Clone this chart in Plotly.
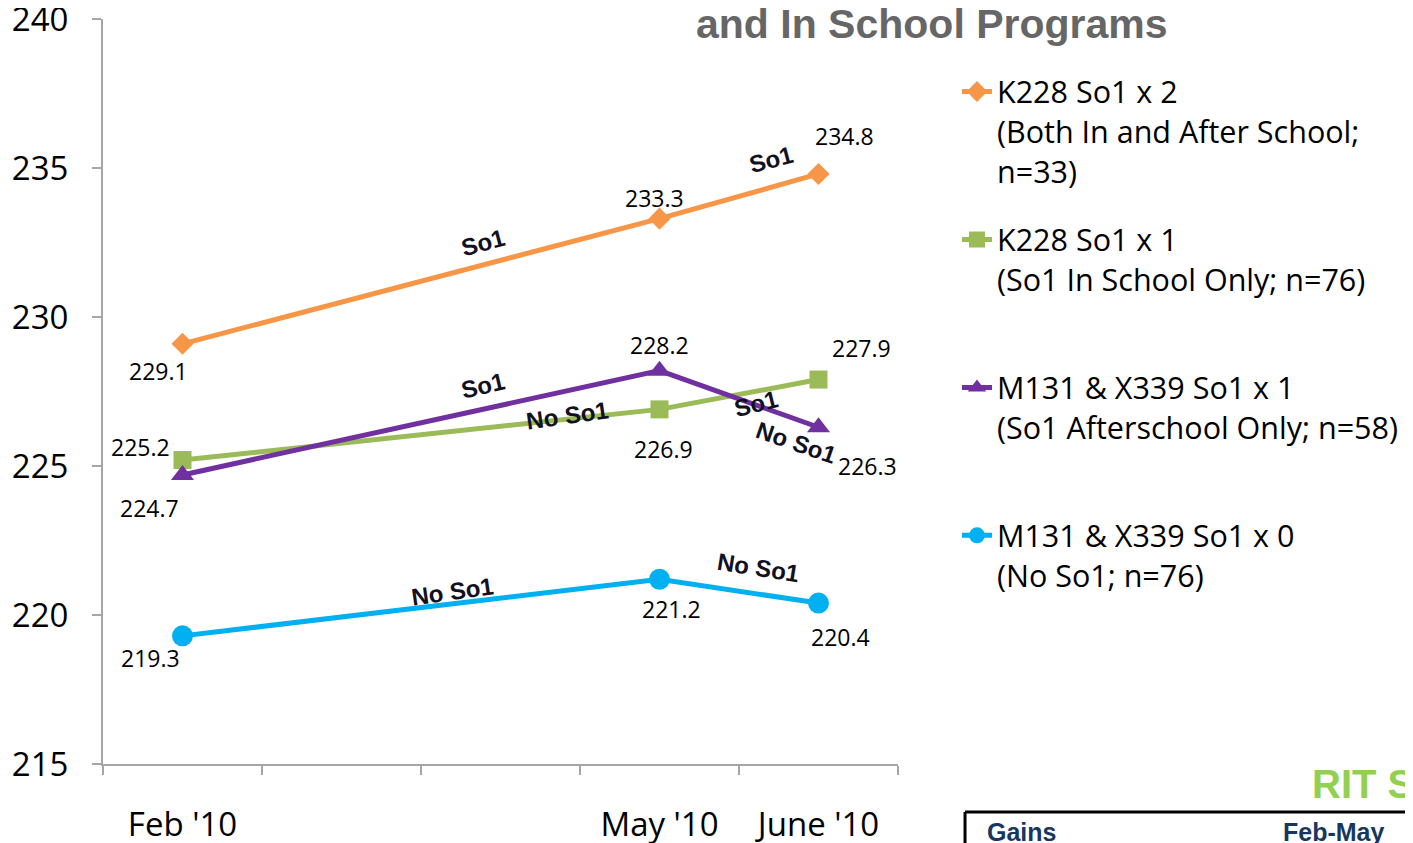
import plotly.graph_objects as go

# ---- data ----
months = ["Feb '10", "Mar '10", "Apr '10", "May '10", "June '10"]
month_labels = ["Feb '10", "", "", "May '10", "June '10"]
test_months = ["Feb '10", "May '10", "June '10"]

series_names = [
    "K228 So1 x 2<br>(Both In and After School;<br>n=33)",
    "K228 So1 x 1<br>(So1 In School Only; n=76)<br> ",
    "M131 & X339 So1 x 1<br>(So1 Afterschool Only; n=58)<br> ",
    "M131 & X339 So1 x 0<br>(No So1; n=76)<br> ",
]
orange_vals = [229.1, 233.3, 234.8]
green_vals = [225.2, 226.9, 227.9]
purple_vals = [224.7, 228.2, 226.3]
blue_vals = [219.3, 221.2, 220.4]

y_ticks = [215, 220, 225, 230, 235, 240]

# ---- styles ----
colors = ["#F79646", "#9BBB59", "#7030A0", "#00B0F0"]
symbols = ["diamond", "square", "triangle-up", "circle"]
sizes = [17, 18, 20, 21]
all_vals = [orange_vals, green_vals, purple_vals, blue_vals]

fig = go.Figure()
for i, vals in enumerate(all_vals):
    fig.add_trace(go.Scatter(
        x=test_months, y=vals, mode="lines+markers", name=series_names[i],
        legendgroup=f"g{i}",
        line=dict(color=colors[i], width=5),
        marker=dict(symbol=symbols[i], size=sizes[i], color=colors[i]),
        hoverinfo="skip",
    ))

# data labels: (xshift, yshift) per point
label_offsets = [
    [(-24, -27), (-5, 21), (26, 38)],
    [(-42, 13), (4, -40), (43, 32)],
    [(-33, -33), (0, 26), (49, -39)],
    [(-32, -22), (12, -30), (22, -34)],
]
annotations = []
for i, vals in enumerate(all_vals):
    for j, v in enumerate(vals):
        dx, dy = label_offsets[i][j]
        annotations.append(dict(
            x=test_months[j], y=v, xref="x", yref="y", text=f"{v:.1f}",
            showarrow=False, xshift=dx, yshift=dy,
            font=dict(family="Open Sans", size=23, color="#000000"),
        ))

# inline segment labels
seg_labels = [
    ("So1", 1.89, 232.5, -15),
    ("So1", 3.70, 235.3, -15),
    ("So1", 1.89, 227.7, -13),
    ("No So1", 2.42, 226.7, -8),
    ("So1", 3.61, 227.1, -14),
    ("No So1", 3.86, 225.8, 19),
    ("No So1", 1.70, 220.8, -8),
    ("No So1", 3.62, 221.6, 9),
]
for t, x, y, ang in seg_labels:
    annotations.append(dict(
        x=x, y=y, xref="x", yref="y", text=f"<b>{t}</b>", showarrow=False,
        textangle=ang, font=dict(family="Liberation Sans", size=24, color="#111122"),
    ))

# slide fragments
annotations.append(dict(
    x=1.0428, y=1.027, xref="paper", yref="paper", xanchor="center", yanchor="top",
    text="<b>and In School Programs</b>", showarrow=False,
    font=dict(family="Liberation Sans", size=41, color="#666666"),
))
annotations.append(dict(
    x=1.518, y=0.006, xref="paper", yref="paper", xanchor="left", yanchor="top",
    text="<b>RIT S</b>", showarrow=False,
    font=dict(family="Liberation Sans", size=40, color="#92D050"),
))
annotations.append(dict(
    x=1.1094, y=-0.0698, xref="paper", yref="paper", xanchor="left", yanchor="top",
    text="<b>Gains</b>", showarrow=False,
    font=dict(family="Liberation Sans", size=25, color="#17375E"),
))
annotations.append(dict(
    x=1.4818, y=-0.0698, xref="paper", yref="paper", xanchor="left", yanchor="top",
    text="<b>Feb-May</b>", showarrow=False,
    font=dict(family="Liberation Sans", size=25, color="#17375E"),
))

shapes = [
    dict(type="line", xref="paper", yref="paper", x0=1.0843, x1=1.7, y0=-0.0644, y1=-0.0644,
         line=dict(color="#000000", width=3)),
    dict(type="line", xref="paper", yref="paper", x0=1.0843, x1=1.0843, y0=-0.0644, y1=-0.2,
         line=dict(color="#000000", width=3)),
]

fig.update_layout(
    template="none",
    width=1413, height=843,
    margin=dict(l=95, r=523, t=11, b=87, autoexpand=False),
    paper_bgcolor="white", plot_bgcolor="white",
    showlegend=True,
    legend=dict(
        x=1.0742, y=0.938, xanchor="left", yanchor="top",
        font=dict(family="Open Sans", size=30.5, color="#000000"),
        valign="top", tracegroupgap=26, traceorder="grouped",
        bgcolor="rgba(0,0,0,0)", borderwidth=0,
    ),
    xaxis=dict(
        type="category", categoryorder="array", categoryarray=months,
        tickmode="array", tickvals=months, ticktext=month_labels,
        tickson="boundaries", ticks="outside", ticklen=9, tickwidth=2, tickcolor="#A6A6A6",
        range=[-0.5, 4.5], showline=True, linecolor="#A6A6A6", linewidth=2,
        showgrid=False, zeroline=False, ticklabelstandoff=30, automargin=False,
        ticklabeloverflow="allow",
        tickfont=dict(family="Open Sans", size=33, color="#000000"),
    ),
    yaxis=dict(
        range=[215, 240], tickmode="array", tickvals=y_ticks,
        ticks="outside", ticklen=9, tickwidth=2, tickcolor="#A6A6A6",
        showline=True, linecolor="#A6A6A6", linewidth=2,
        showgrid=False, zeroline=False, ticklabelstandoff=17, automargin=False,
        ticklabeloverflow="allow",
        tickfont=dict(family="Open Sans", size=33, color="#000000"),
    ),
    annotations=annotations,
    shapes=shapes,
)

fig.write_html("out.html")
